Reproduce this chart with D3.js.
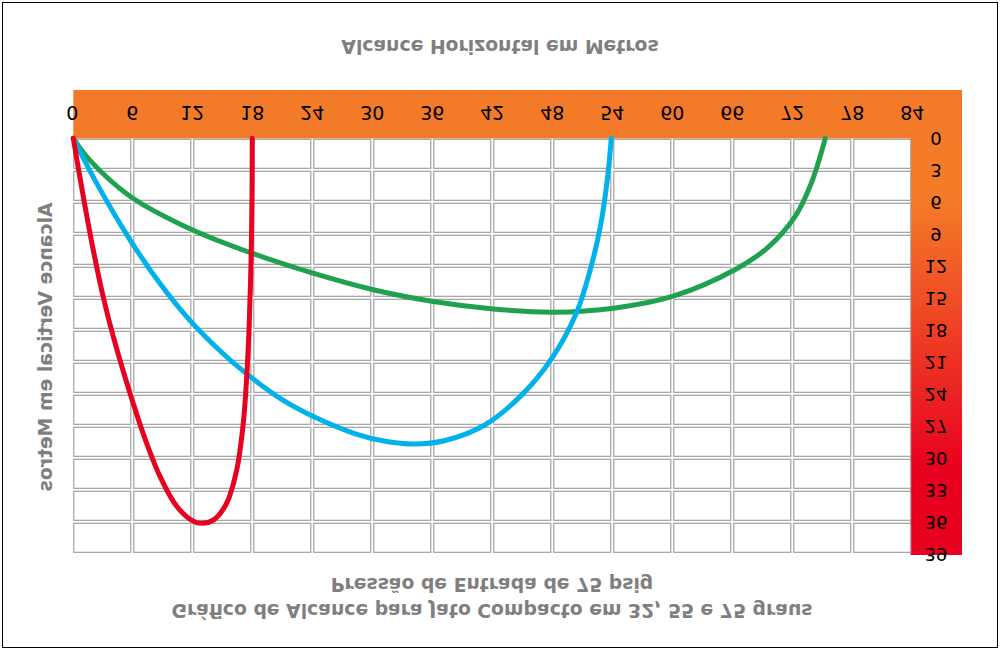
<!DOCTYPE html>
<html><head><meta charset="utf-8">
<script src="https://cdn.jsdelivr.net/npm/d3@7"></script>
<style>html,body{margin:0;padding:0;background:#fff}</style>
</head><body><svg id="c" width="1000" height="651"></svg>
<script>
// Tick labels
const xTickValues = [0,6,12,18,24,30,36,42,48,54,60,66,72,78,84];
const yTickValues = [0,3,6,9,12,15,18,21,24,27,30,33,36,39];

// Trajectories: [horizontal reach m, vertical height m]
const angle32 = [[0,0],[1.6,2.0],[5.7,5.45],[11.6,8.45],[17.8,10.75],[23.8,12.6],[30,14.2],[36,15.3],[42,16.0],[48,16.3],[54.2,15.9],[60,14.8],[66.2,12.3],[69.5,10.2],[72.2,7.3],[73.8,4.2],[75.2,0]];
const angle55 = [[0,0],[2.33,4.2],[5.66,9.5],[8.61,13.55],[11.57,16.98],[14.16,19.47],[17.1,21.9],[20.8,24.45],[24.5,26.3],[28.2,27.7],[31.2,28.4],[34.1,28.66],[37.1,28.35],[41.1,26.9],[44.8,24.1],[47.8,20.7],[50.3,16.4],[51.7,12.3],[52.7,8.3],[53.4,3.9],[53.8,0]];
const angle75 = [[0,0],[1.0,5.47],[2.0,10.5],[3.0,14.9],[4.0,18.6],[5.67,23.9],[7.34,28.6],[8.67,31.7],[10.34,34.5],[12.0,35.9],[12.84,36.1],[14.0,35.8],[15.34,34.2],[16.34,31.1],[17.0,26.7],[17.34,22.4],[17.57,17.97],[17.77,11.7],[17.87,5.5],[17.9,0]];

const seriesList = [
  {data: angle32, color: "#1FA14F"},
  {data: angle55, color: "#00B1EB"},
  {data: angle75, color: "#E8001F"}
];

const titleText = "Gráfico de Alcance para Jato Compacto em 32, 55 e 75 graus";
const subtitleText = "Pressão de Entrada de 75 psig";
const xAxisTitle = "Alcance Horizontal em Metros";
const yAxisTitle = "Alcance Vertical em Metros";

const svg = d3.select("#c");
const x = d3.scaleLinear().domain([0,84]).range([73.3,913.3]);
const y = d3.scaleLinear().domain([0,39]).range([138.3,554.3]);

// outer frame
svg.append("rect").attr("x",2.5).attr("y",2.5).attr("width",995).attr("height",645)
  .attr("fill","#fff").attr("stroke","#000").attr("stroke-width",1);

// gradient for vertical band
const defs = svg.append("defs");
const grad = defs.append("linearGradient").attr("id","vg")
  .attr("gradientUnits","userSpaceOnUse").attr("x1",0).attr("y1",200).attr("x2",0).attr("y2",470);
grad.append("stop").attr("offset",0).attr("stop-color","#F47B28");
grad.append("stop").attr("offset",1).attr("stop-color","#E8001F");

// bands
svg.append("rect").attr("x",910.5).attr("y",90).attr("width",51.5).attr("height",465).attr("fill","url(#vg)");
svg.append("rect").attr("x",73.3).attr("y",90).attr("width",962-73.3).attr("height",48.5).attr("fill","#F37A28");

// grid cells
const cols = d3.range(0, 84, 6), rows = d3.range(0, 39, 3);
const cw = x(6)-x(0)-3, ch = y(3)-y(0)-3;
const cells = [];
cols.forEach(c => rows.forEach(r => cells.push([c,r])));
svg.append("g").selectAll("rect").data(cells).join("rect")
  .attr("x", d => x(d[0])+0.5).attr("y", d => y(d[1])+1)
  .attr("width", cw).attr("height", ch)
  .attr("fill","#fff").attr("stroke","#999").attr("stroke-width",1.1);

// curves
const line = d3.line().x(d=>x(d[0])).y(d=>y(d[1])).curve(d3.curveCatmullRom.alpha(0.5));
svg.append("g").selectAll("path").data(seriesList).join("path")
  .attr("d", d => line(d.data)).attr("fill","none")
  .attr("stroke", d => d.color).attr("stroke-width",5)
  .attr("stroke-linecap","round").attr("stroke-linejoin","round");

// flipped text helper (the chart is shown mirrored vertically)
function flipText(px, py, str, size, fill, weight, family, extra) {
  return svg.append("text")
    .attr("transform", `translate(${px},${py}) scale(1,-1)` + (extra||""))
    .attr("dy","0.35em").attr("text-anchor","middle")
    .attr("font-family", family).attr("font-size", size)
    .attr("font-weight", weight).attr("fill", fill).text(str);
}

xTickValues.forEach(v => flipText(x(v)-1, 113, String(v), 19, "#000", "normal", "DejaVu Sans"));
yTickValues.forEach(v => flipText(936, y(v), String(v), 18, "#000", "normal", "DejaVu Sans"));

const tf = "'DejaVu Sans', Verdana, sans-serif";
flipText(500, 47, xAxisTitle, 18.8, "#7F7F7F", "bold", tf);
flipText(492, 585, subtitleText, 18.8, "#7F7F7F", "bold", tf);
flipText(492, 611, titleText, 18.8, "#7F7F7F", "bold", tf);
flipText(45, 347, yAxisTitle, 18.8, "#7F7F7F", "bold", tf, " rotate(-90)");
</script></body></html>
